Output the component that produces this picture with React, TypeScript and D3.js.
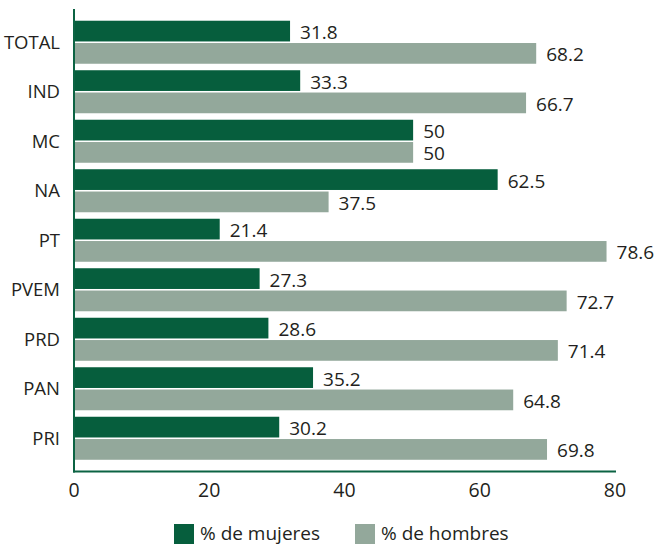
import React from "react";
import * as d3 from "d3";

const categories = ["TOTAL", "IND", "MC", "NA", "PT", "PVEM", "PRD", "PAN", "PRI"];
const mujeres = [31.8, 33.3, 50, 62.5, 21.4, 27.3, 28.6, 35.2, 30.2];
const hombres = [68.2, 66.7, 50, 37.5, 78.6, 72.7, 71.4, 64.8, 69.8];
const xTicks = [0, 20, 40, 60, 80];
const seriesNames = ["% de mujeres", "% de hombres"];
const seriesColors = ["#065e3d", "#93a89b"];

const W = 660;
const H = 545;
const FONT = "'Open Sans', 'Noto Sans', sans-serif";
const TEXT = "#231f20";
const AXIS = "#0b6343";

export default function App() {
  const x = d3.scaleLinear().domain([0, 80]).range([75, 616]);
  const y = d3
    .scaleBand<string>()
    .domain(categories)
    .range([9, 471.5])
    .paddingInner(0.131)
    .paddingOuter(0.237);
  const inner = d3
    .scaleBand<string>()
    .domain(seriesNames)
    .range([0, y.bandwidth()])
    .paddingInner(0.07);
  const series = [mujeres, hombres];

  return (
    <svg width={W} height={H} style={{ display: "block", position: "absolute", left: 0, top: 0 }}>
      <rect x={0} y={0} width={W} height={H} fill="#ffffff" />
      {categories.map((c, i) => (
        <g key={c}>
          {series.map((vals, s) => {
            const by = (y(c) as number) + (inner(seriesNames[s]) as number);
            const bh = inner.bandwidth();
            const v = vals[i];
            return (
              <g key={s}>
                <rect x={x(0)} y={by} width={x(v) - x(0)} height={bh} fill={seriesColors[s]} />
                <text
                  x={x(v) + 10}
                  y={by + bh / 2 + 1}
                  dominantBaseline="central"
                  fontFamily={FONT}
                  fontSize={19}
                  fill={TEXT}
                >
                  {String(v)}
                </text>
              </g>
            );
          })}
          <text
            x={60}
            y={(y(c) as number) + y.bandwidth() / 2 - 1}
            textAnchor="end"
            dominantBaseline="central"
            fontFamily={FONT}
            fontSize={18.5}
            fill={TEXT}
          >
            {c}
          </text>
        </g>
      ))}
      <line x1={74} x2={74} y1={9} y2={472.5} stroke={AXIS} strokeWidth={2} />
      <line x1={73} x2={x(80)} y1={471.5} y2={471.5} stroke={AXIS} strokeWidth={2} />
      {xTicks.map((t) => (
        <text
          key={t}
          x={x(t) - 1}
          y={497}
          textAnchor="middle"
          fontFamily={FONT}
          fontSize={19.5}
          fill={TEXT}
        >
          {t}
        </text>
      ))}
      {seriesNames.map((name, s) => {
        const lx = [174, 355][s];
        return (
          <g key={name}>
            <rect x={lx} y={524} width={20} height={20} fill={seriesColors[s]} />
            <text x={lx + 26} y={540} fontFamily={FONT} fontSize={19} fill={TEXT}>
              {name}
            </text>
          </g>
        );
      })}
    </svg>
  );
}
